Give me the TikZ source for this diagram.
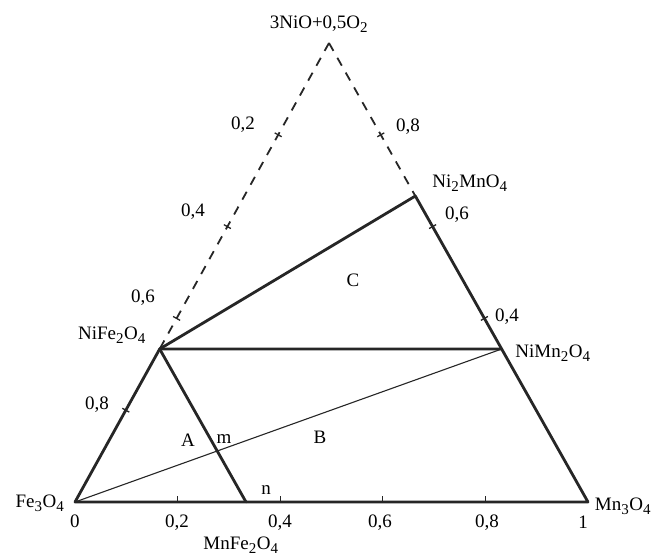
\documentclass[tikz,border=0pt]{standalone}
\usepackage{fontspec}
\setmainfont{Liberation Serif}
\usetikzlibrary{calc}
\newcommand{\sbs}[1]{\textsubscript{\fontsize{15}{16}\selectfont #1}}
\begin{document}
\begin{tikzpicture}[x=1pt,y=-1pt,
  thickln/.style={line width=2.8pt, line cap=round, line join=round, draw=black!85},
  thinln/.style={line width=1.1pt, draw=black!85},
  dashln/.style={line width=1.8pt, dash pattern=on 9pt off 8pt, draw=black!85},
  tickln/.style={line width=1.3pt, draw=black!85},
  lbl/.style={inner sep=0pt, font=\fontsize{19}{21}\selectfont},
  num/.style={inner sep=0pt, font=\fontsize{19}{21}\selectfont}]
\useasboundingbox[fill=white] (0,0) rectangle (657,557);
% vertices
\coordinate (F) at (75,502);
\coordinate (M) at (588,502);
\coordinate (O) at (329,43);
\coordinate (NF) at ($(O)!2/3!(F)$);
\coordinate (NM) at ($(M)!1/3!(O)$);
\coordinate (N2M) at ($(M)!2/3!(O)$);
\coordinate (n) at ($(F)!1/3!(M)$);
\coordinate (m) at (intersection of NF--n and F--NM);
% lines
\draw[dashln] (O) -- (NF);
\draw[dashln] (O) -- (N2M);
\draw[thinln] (F) -- (NM);
\draw[thickln] (F) -- (M) -- (N2M) -- (NF) -- cycle;
\draw[thickln] (NF) -- (NM);
\draw[thickln] (NF) -- (n);
% ticks on base
\foreach \t in {0.2,0.4,0.6,0.8}{
  \coordinate (bt) at ($(F)!\t!(M)$);
  \draw[tickln] (bt) -- ++(0,-6);
}
% ticks on left side
\foreach \t in {0.2,0.4,0.6,0.8}{
  \coordinate (lt) at ($(O)!\t!(F)$);
  \draw[tickln] ($(lt)!4pt!-90:(F)$) -- ($(lt)!4pt!90:(F)$);
}
% ticks on right side
\foreach \t in {0.4,0.6,0.8}{
  \coordinate (rt) at ($(M)!\t!(O)$);
  \draw[tickln] ($(rt)!4pt!-90:(O)$) -- ($(rt)!4pt!90:(O)$);
}
% labels
\node[lbl] (lO) at (319,24) {3NiO+0,5O\sbs{2}};
\node[lbl] (lF) at (40,503) {Fe\sbs{3}O\sbs{4}};
\node[lbl] (lM) at (623,506) {Mn\sbs{3}O\sbs{4}};
\node[lbl] (lMF) at (241,545) {MnFe\sbs{2}O\sbs{4}};
\node[lbl] (lNF) at (112,335) {NiFe\sbs{2}O\sbs{4}};
\node[lbl] (lN2M) at (470,183) {Ni\sbs{2}MnO\sbs{4}};
\node[lbl] (lNM) at (553,353) {NiMn\sbs{2}O\sbs{4}};
\node[lbl] (lA) at (188,440) {A};
\node[lbl] (lm) at (224,439) {m};
\node[lbl] (lB) at (320,437) {B};
\node[lbl] (ln) at (266,490) {n};
\node[lbl] (lC) at (353,280) {C};
% scale numbers
\node[num] (b0) at (75,521) {0};
\node[num] (b2) at (177,523) {0,2};
\node[num] (b4) at (280,523) {0,4};
\node[num] (b6) at (380,523) {0,6};
\node[num] (b8) at (487,523) {0,8};
\node[num] (b10) at (583,522) {1};
\node[num] (l2) at (243,125) {0,2};
\node[num] (l4) at (193,212) {0,4};
\node[num] (l6) at (143,298) {0,6};
\node[num] (l8) at (97,405) {0,8};
\node[num] (r8) at (408,127) {0,8};
\node[num] (r6) at (457,215) {0,6};
\node[num] (r4) at (507,317) {0,4};
\end{tikzpicture}
\end{document}
